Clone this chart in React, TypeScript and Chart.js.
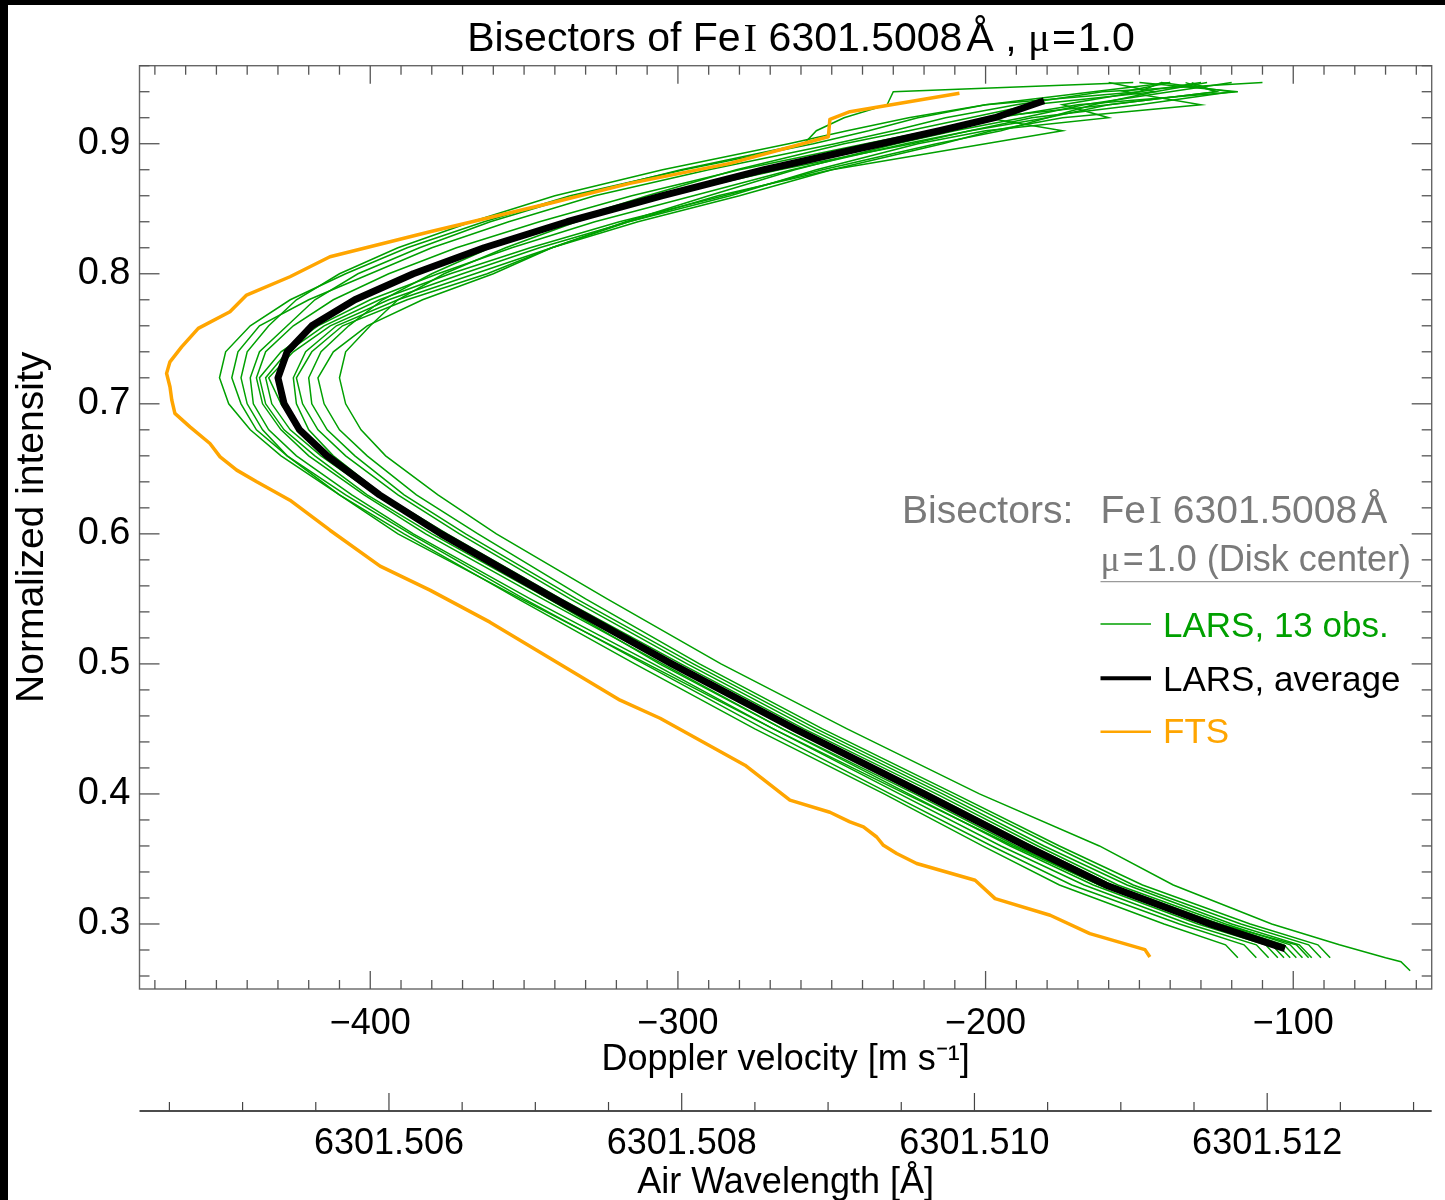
import React, { useEffect, useRef } from "react";
import { Chart, registerables } from "chart.js";

Chart.register(...registerables);

// ---------- constants ----------
const SPEED_OF_LIGHT = 299792458;
const WAVE_REF = 6301.51428;
const V_MIN = -475;
const V_MAX = -55;
const I_MIN = 0.25;
const I_MAX = 0.96;

const VELOCITY_TICKS = [-400, -300, -200, -100];
const INTENSITY_TICKS = [0.3, 0.4, 0.5, 0.6, 0.7, 0.8, 0.9];
const WAVELENGTH_TICKS = [6301.506, 6301.508, 6301.51, 6301.512];

// ---------- data ----------
// Intensity levels shared by the 13 LARS bisectors
const INTENSITY_LEVELS = [
  0.264, 0.271, 0.274, 0.284, 0.3, 0.33, 0.36, 0.4, 0.45, 0.5, 0.55, 0.6, 0.63, 0.66, 0.68, 0.7,
  0.72, 0.74, 0.76, 0.78, 0.8, 0.82, 0.84, 0.86, 0.88, 0.9, 0.91, 0.92, 0.93, 0.94, 0.947,
];

// Doppler velocities [m/s] of each LARS observation at INTENSITY_LEVELS
const lars01 = [null, null, -118, -122, -142, -176, -201, -233, -275, -314, -352, -389, -410, -429, -439, -446, -449, -447, -439, -426, -408, -388, -363, -335, -298, -256, -238, -222, -200, -150, -143];
const lars02 = [null, null, -112, -116, -137, -172, -198, -231, -272, -311, -350, -387, -408, -427, -437, -442, -445, -443, -436, -420, -400, -380, -355, -327, -290, -249, -230, -213, -190, -162, -110];
const lars03 = [null, null, -108, -112, -134, -168, -195, -228, -269, -308, -348, -386, -406, -424, -433, -438, -439, -436, -427, -418, -404, -384, -361, -333, -299, -259, -255, -246, -232, -230, -152];
const lars04 = [null, null, -105, -109, -131, -165, -192, -225, -266, -305, -344, -382, -402, -420, -429, -435, -437, -434, -425, -412, -394, -372, -345, -315, -280, -239, -218, -196, -170, -118, -150];
const lars05 = [null, null, -101, -105, -127, -161, -188, -221, -263, -303, -342, -380, -401, -418, -428, -434, -436, -429, -417, -400, -378, -354, -327, -295, -263, -226, -205, -185, -150, -120, -143];
const lars06 = [null, null, -99, -103, -124, -159, -185, -218, -261, -301, -340, -377, -398, -416, -426, -432, -434, -427, -415, -397, -374, -348, -319, -285, -253, -216, -195, -180, -165, -145, -128];
const lars07 = [null, null, -97, -101, -122, -157, -183, -216, -259, -299, -338, -375, -396, -413, -423, -429, -433, -425, -413, -394, -370, -345, -316, -283, -255, -222, -200, -160, -175, -150, -130];
const lars08 = [null, null, -103, -107, -129, -163, -190, -223, -266, -306, -342, -377, -396, -412, -420, -424, -425, -421, -411, -391, -366, -341, -313, -280, -250, -214, -198, -175, -130, -155, -140];
const lars09 = [null, null, -94, -98, -120, -154, -181, -214, -257, -297, -335, -371, -391, -408, -417, -422, -424, -419, -409, -388, -362, -341, -316, -287, -250, -200, -175, -200, -160, -125, -135];
const lars10 = [null, null, -91, -95, -117, -152, -178, -212, -255, -295, -333, -369, -389, -405, -414, -419, -420, -416, -407, -396, -380, -361, -337, -310, -281, -246, -225, -205, -185, -145, -160];
const lars11 = [null, null, -88, -92, -114, -149, -176, -210, -253, -293, -330, -365, -385, -401, -410, -415, -417, -412, -401, -383, -360, -341, -317, -290, -262, -229, -210, -188, -168, -140, -120];
const lars12 = [null, null, -95, -99, -124, -163, -191, -226, -269, -310, -351, -391, -410, -427, -435, -440, -442, -440, -433, -424, -410, -391, -367, -340, -305, -264, -245, -225, -200, -165, -140];
const lars13 = [-62, -65, -70, -85, -107, -139, -163, -202, -245, -286, -323, -359, -378, -395, -403, -408, -410, -408, -400, -391, -376, -356, -333, -305, -267, -224, -205, -180, -160, -125, -133];

const LARS_OBS = [lars01, lars02, lars03, lars04, lars05, lars06, lars07, lars08, lars09, lars10, lars11, lars12, lars13];

// LARS average bisector
const AVG_INTENSITY = [0.281, 0.3, 0.33, 0.36, 0.4, 0.45, 0.5, 0.55, 0.6, 0.63, 0.66, 0.68, 0.7, 0.72, 0.74, 0.76, 0.78, 0.8, 0.82, 0.84, 0.86, 0.88, 0.9, 0.91, 0.92, 0.933];
const AVG_VELOCITY = [-102.7, -127, -161, -187, -220, -262, -302, -340, -377, -397, -414, -423, -428, -430, -427, -419, -405, -386, -363, -336, -305, -272, -234, -215, -197, -181];

// FTS atlas bisector
const FTS_INTENSITY = [
  0.2746, 0.2803, 0.2926, 0.3067, 0.3195, 0.3336, 0.3465, 0.3542, 0.3605, 0.3669, 0.3746, 0.3785,
  0.3859, 0.3952, 0.4221, 0.4582, 0.4721, 0.4998, 0.5321, 0.5567, 0.5752, 0.6028, 0.6259, 0.64,
  0.649, 0.6592, 0.6695, 0.6823, 0.6926, 0.7028, 0.7131, 0.7234, 0.7323, 0.7438, 0.758, 0.7708,
  0.7836, 0.7977, 0.8131, 0.8323, 0.8542, 0.8695, 0.8849, 0.9054, 0.9188, 0.9246, 0.9388,
];
const FTS_VELOCITY = [
  -146.6, -148.2, -166.1, -179.0, -196.9, -203.4, -222.4, -228.9, -233.2, -235.4, -239.7, -244.1,
  -250.6, -263.6, -278.2, -305.8, -318.8, -338.3, -361.1, -380.6, -396.8, -413.1, -426.1, -436.9,
  -443.4, -448.8, -452.1, -458.6, -463.5, -464.5, -465.1, -466.2, -465.1, -461.3, -455.9, -445.6,
  -440.2, -426.1, -413.1, -380.6, -341.6, -315.6, -283.1, -251.1, -250.6, -244.1, -208.5,
];

// ---------- styles ----------
const GREEN = "#00a000";
const ORANGE = "#ffa500";
const GRAY_TEXT = "#7a7a7a";
const FRAME = "#666666";
const SANS = "'Liberation Sans', Arial, Helvetica, sans-serif";
const SERIF = "'Liberation Serif', 'Times New Roman', serif";

const toWave = (v: number) => WAVE_REF * (1 + v / SPEED_OF_LIGHT);

const near = (a: number, b: number, tol: number) => Math.abs(a - b) < tol;
const onStep = (v: number, step: number) => Math.abs(v / step - Math.round(v / step)) < 1e-4;

function stepTicks(min: number, max: number, step: number) {
  const out: { value: number }[] = [];
  const k0 = Math.ceil(min / step - 1e-9);
  const k1 = Math.floor(max / step + 1e-9);
  for (let k = k0; k <= k1; k++) out.push({ value: +(k * step).toFixed(6) });
  return out;
}

type Seg = { t: string; font: string; gap?: number };

function drawSegs(ctx: CanvasRenderingContext2D, segs: Seg[], x: number, y: number, align: "left" | "center") {
  let total = 0;
  const widths = segs.map((s) => {
    ctx.font = s.font;
    const w = ctx.measureText(s.t).width;
    total += w + (s.gap || 0);
    return w;
  });
  let cx = align === "center" ? x - total / 2 : x;
  ctx.textAlign = "left";
  segs.forEach((s, i) => {
    cx += s.gap || 0;
    ctx.font = s.font;
    ctx.fillText(s.t, cx, y);
    cx += widths[i];
  });
  return total;
}

const decorPlugin = {
  id: "decor",
  afterDatasetsDraw(chart: any) {
    const { ctx, chartArea: a, scales } = chart;
    const xs = scales.x;
    const ys = scales.y;
    const ws = scales.xw;
    ctx.save();
    ctx.strokeStyle = FRAME;
    ctx.lineWidth = 1.4;
    ctx.strokeRect(a.left, a.top, a.right - a.left, a.bottom - a.top);
    const seg = (x1: number, y1: number, x2: number, y2: number) => {
      ctx.beginPath();
      ctx.moveTo(x1, y1);
      ctx.lineTo(x2, y2);
      ctx.stroke();
    };
    ctx.lineWidth = 1.3;
    ctx.strokeStyle = "#555555";
    for (const t of xs.ticks) {
      const v = t.value;
      if (!onStep(v, 10)) continue;
      const major = VELOCITY_TICKS.some((m) => near(m, v, 1e-6));
      const len = major ? 18 : 9;
      const px = xs.getPixelForValue(v);
      seg(px, a.bottom, px, a.bottom - len);
      seg(px, a.top, px, a.top + len);
    }
    for (const t of ys.ticks) {
      const v = t.value;
      if (!onStep(v, 0.02)) continue;
      const major = INTENSITY_TICKS.some((m) => near(m, v, 1e-6));
      const len = major ? 20 : 10;
      const py = ys.getPixelForValue(v);
      seg(a.left, py, a.left + len, py);
      seg(a.right, py, a.right - len, py);
    }
    const wy = ws.top;
    ctx.strokeStyle = "#111111";
    ctx.lineWidth = 1.4;
    seg(a.left, wy, a.right, wy);
    ctx.lineWidth = 1.2;
    ctx.strokeStyle = "#444444";
    for (const t of ws.ticks) {
      const v = t.value;
      if (!onStep(v, 0.0005)) continue;
      const major = WAVELENGTH_TICKS.some((m) => near(m, v, 1e-7));
      const len = major ? 18 : 9;
      const px = ws.getPixelForValue(v);
      seg(px, wy, px, wy - len);
    }
    ctx.restore();
  },
  afterDraw(chart: any) {
    const { ctx } = chart;
    ctx.save();
    ctx.textBaseline = "alphabetic";
    ctx.fillStyle = "#000";
    const tf = `41px ${SANS}`;
    const tfs = `41px ${SERIF}`;
    drawSegs(
      ctx,
      [
        { t: "Bisectors of Fe", font: tf },
        { t: "I", font: tfs, gap: 3 },
        { t: " 6301.5008", font: tf },
        { t: "Å", font: tf, gap: 4 },
        { t: " , ", font: tf },
        { t: "μ", font: tfs },
        { t: "=", font: tf, gap: 2 },
        { t: "1.0", font: tf, gap: 2 },
      ],
      793,
      46,
      "center"
    );
    ctx.fillStyle = GRAY_TEXT;
    const hf = `39px ${SANS}`;
    const hfs = `39px ${SERIF}`;
    ctx.font = hf;
    ctx.textAlign = "left";
    ctx.fillText("Bisectors:", 894, 518.3);
    drawSegs(
      ctx,
      [
        { t: "Fe", font: hf },
        { t: "I", font: hfs, gap: 3 },
        { t: " 6301.5008", font: hf },
        { t: "Å", font: hf, gap: 4 },
      ],
      1092.5,
      518.3,
      "left"
    );
    const mf = `36px ${SANS}`;
    const mfs = `36px ${SERIF}`;
    drawSegs(
      ctx,
      [
        { t: "μ", font: mfs },
        { t: "=", font: mf, gap: 3 },
        { t: "1.0 (Disk center)", font: mf, gap: 3 },
      ],
      1092.5,
      565.7,
      "left"
    );
    ctx.strokeStyle = "#9a9a9a";
    ctx.lineWidth = 1.2;
    ctx.beginPath();
    ctx.moveTo(1092.5, 576.7);
    ctx.lineTo(1413, 576.7);
    ctx.stroke();
    const entries = [
      { label: "LARS, 13 obs.", color: GREEN, width: 1.6, y: 619, base: 631.7 },
      { label: "LARS, average", color: "#000000", width: 4, y: 673.3, base: 685.7 },
      { label: "FTS", color: ORANGE, width: 2.6, y: 726.7, base: 738.3 },
    ];
    ctx.font = `35px ${SANS}`;
    for (const e of entries) {
      ctx.strokeStyle = e.color;
      ctx.lineWidth = e.width;
      ctx.beginPath();
      ctx.moveTo(1092.5, e.y);
      ctx.lineTo(1143, e.y);
      ctx.stroke();
      ctx.fillStyle = e.color;
      ctx.fillText(e.label, 1155, e.base);
    }
    ctx.restore();
  },
};

function buildConfig(): any {
  const greenSets = LARS_OBS.map((vs, k) => ({
    label: `LARS obs ${k + 1}`,
    data: INTENSITY_LEVELS.map((lvl, i) => (vs[i] == null ? null : { x: vs[i], y: lvl })).filter(
      (p) => p !== null
    ),
    borderColor: GREEN,
    borderWidth: 1.5,
    pointRadius: 0,
    showLine: true,
    fill: false,
    tension: 0,
  }));
  const avgSet = {
    label: "LARS, average",
    data: AVG_INTENSITY.map((lvl, i) => ({ x: AVG_VELOCITY[i], y: lvl })),
    borderColor: "#000000",
    borderWidth: 7,
    borderCapStyle: "butt",
    borderJoinStyle: "round",
    pointRadius: 0,
    showLine: true,
    fill: false,
    tension: 0,
  };
  const ftsSet = {
    label: "FTS",
    data: FTS_INTENSITY.map((lvl, i) => ({ x: FTS_VELOCITY[i], y: lvl })),
    borderColor: ORANGE,
    borderWidth: 3.5,
    borderJoinStyle: "round",
    pointRadius: 0,
    showLine: true,
    fill: false,
    tension: 0,
  };
  const tickFont = { family: SANS, size: 36, lineHeight: 1 };
  return {
    type: "scatter",
    data: { datasets: [ftsSet, avgSet, ...greenSets] },
    plugins: [decorPlugin],
    options: {
      responsive: false,
      devicePixelRatio: 1,
      animation: false,
      events: [],
      layout: { padding: { top: 60.7, left: 0, right: 13.3, bottom: 0 } },
      plugins: { legend: { display: false }, tooltip: { enabled: false }, title: { display: false } },
      scales: {
        x: {
          type: "linear",
          position: "bottom",
          weight: 0,
          min: V_MIN,
          max: V_MAX,
          grid: { display: false, drawTicks: false },
          border: { display: false },
          afterBuildTicks: (s: any) => {
            s.ticks = stepTicks(s.min, s.max, 10);
          },
          ticks: {
            autoSkip: false,
            maxRotation: 0,
            minRotation: 0,
            padding: 16.8,
            color: "#000",
            font: tickFont,
            callback: (v: number) => {
              const m = VELOCITY_TICKS.find((t) => near(t, v, 1e-6));
              return m === undefined ? "" : "\u2212" + Math.abs(m);
            },
          },
          title: {
            display: true,
            text: "Doppler velocity [m s\u207B\u00B9]",
            color: "#000",
            font: { family: SANS, size: 36, lineHeight: 1 },
            padding: { top: 0, bottom: 33 },
          },
          afterFit: (s: any) => {
            s.height = 122;
          },
        },
        xw: {
          type: "linear",
          position: "bottom",
          weight: 1,
          min: toWave(V_MIN),
          max: toWave(V_MAX),
          grid: { display: false, drawTicks: false },
          border: { display: false },
          afterBuildTicks: (s: any) => {
            s.ticks = stepTicks(s.min, s.max, 0.0005);
          },
          ticks: {
            autoSkip: false,
            maxRotation: 0,
            minRotation: 0,
            padding: 14.8,
            color: "#000",
            font: tickFont,
            callback: (v: number) => {
              const m = WAVELENGTH_TICKS.find((t) => near(t, v, 1e-7));
              return m === undefined ? "" : m.toFixed(3);
            },
          },
          title: {
            display: true,
            text: "Air Wavelength [Å]",
            color: "#000",
            font: { family: SANS, size: 36, lineHeight: 0.95 },
            padding: { top: 0, bottom: 0 },
          },
          afterFit: (s: any) => {
            s.height = 89;
          },
        },
        y: {
          type: "linear",
          position: "left",
          min: I_MIN,
          max: I_MAX,
          grid: { display: false, drawTicks: false },
          border: { display: false },
          afterBuildTicks: (s: any) => {
            s.ticks = stepTicks(s.min, s.max, 0.02);
          },
          ticks: {
            autoSkip: false,
            padding: 9,
            color: "#000",
            font: { family: SANS, size: 38, lineHeight: 1 },
            callback: (v: number) => {
              const m = INTENSITY_TICKS.find((t) => near(t, v, 1e-6));
              return m === undefined ? "" : m.toFixed(1);
            },
          },
          title: {
            display: true,
            text: "Normalized intensity",
            color: "#000",
            font: { family: SANS, size: 39, lineHeight: 1 },
            padding: { top: 4.5, bottom: 0 },
          },
          afterFit: (s: any) => {
            s.width = 131.5;
          },
        },
      },
    },
  };
}

export default function App() {
  const ref = useRef<HTMLCanvasElement>(null);
  useEffect(() => {
    const canvas = ref.current;
    if (!canvas) return;
    const chart = new Chart(canvas, buildConfig());
    return () => chart.destroy();
  }, []);
  return (
    <div
      style={{
        position: "absolute",
        left: 0,
        top: 0,
        width: 1445,
        height: 1200,
        background: "#000",
        overflow: "hidden",
      }}
    >
      <canvas
        ref={ref}
        width={1437}
        height={1195}
        style={{ position: "absolute", left: 8, top: 5, width: 1437, height: 1195, background: "#fff" }}
      />
    </div>
  );
}
